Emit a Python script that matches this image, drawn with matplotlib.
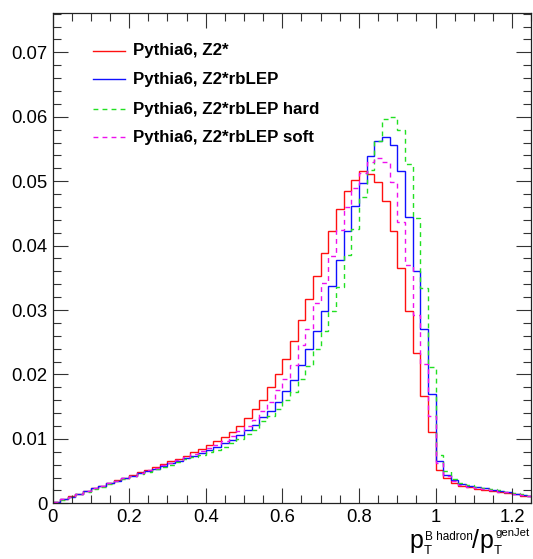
import numpy as np
import matplotlib
matplotlib.use("Agg")
import matplotlib.pyplot as plt
from matplotlib.ticker import MultipleLocator, FixedFormatter, FixedLocator

# Histogram binning: 63 bins of width 0.02 starting at 0
bin_width = 0.02
n_bins = 63

z2star = [0.0002, 0.0006, 0.0011, 0.0015, 0.0019, 0.0023, 0.0027, 0.0031, 0.0036, 0.0040,
          0.0044, 0.0048, 0.0052, 0.0056, 0.0061, 0.0065, 0.0069, 0.0074, 0.0079, 0.0085,
          0.0090, 0.0096, 0.0103, 0.0111, 0.0120, 0.0133, 0.0146, 0.0160, 0.0180, 0.0200,
          0.0224, 0.0252, 0.0284, 0.0317, 0.0353, 0.0388, 0.0423, 0.0457, 0.0485, 0.0502,
          0.0516, 0.0511, 0.0498, 0.0469, 0.0423, 0.0365, 0.0299, 0.0233, 0.0167, 0.0110,
          0.0052, 0.0039, 0.0032, 0.0027, 0.0025, 0.0022, 0.0021, 0.0019, 0.0017, 0.0016,
          0.0014, 0.0012, 0.0011]

z2star_rblep = [0.0002, 0.0006, 0.0010, 0.0015, 0.0019, 0.0023, 0.0027, 0.0031, 0.0035, 0.0039,
                0.0043, 0.0047, 0.0050, 0.0054, 0.0058, 0.0062, 0.0066, 0.0070, 0.0074, 0.0078,
                0.0082, 0.0088, 0.0093, 0.0099, 0.0106, 0.0114, 0.0122, 0.0134, 0.0143, 0.0158,
                0.0174, 0.0191, 0.0215, 0.0240, 0.0268, 0.0299, 0.0338, 0.0378, 0.0422, 0.0461,
                0.0497, 0.0539, 0.0562, 0.0569, 0.0556, 0.0515, 0.0444, 0.0361, 0.0270, 0.0169,
                0.0066, 0.0044, 0.0036, 0.0030, 0.0027, 0.0025, 0.0023, 0.0021, 0.0019, 0.0017,
                0.0015, 0.0013, 0.0012]

z2star_rblep_hard = [0.0002, 0.0005, 0.0010, 0.0014, 0.0018, 0.0022, 0.0026, 0.0030, 0.0034, 0.0038,
                     0.0042, 0.0045, 0.0049, 0.0053, 0.0057, 0.0060, 0.0064, 0.0068, 0.0072, 0.0075,
                     0.0079, 0.0083, 0.0088, 0.0093, 0.0100, 0.0107, 0.0113, 0.0127, 0.0135, 0.0146,
                     0.0160, 0.0173, 0.0193, 0.0213, 0.0240, 0.0268, 0.0299, 0.0335, 0.0386, 0.0425,
                     0.0476, 0.0518, 0.0562, 0.0596, 0.0600, 0.0579, 0.0526, 0.0443, 0.0334, 0.0211,
                     0.0075, 0.0050, 0.0038, 0.0031, 0.0028, 0.0026, 0.0024, 0.0022, 0.0020, 0.0018,
                     0.0016, 0.0014, 0.0012]

z2star_rblep_soft = [0.0002, 0.0006, 0.0010, 0.0015, 0.0019, 0.0023, 0.0027, 0.0031, 0.0035, 0.0039,
                     0.0043, 0.0047, 0.0051, 0.0055, 0.0059, 0.0063, 0.0067, 0.0072, 0.0077, 0.0081,
                     0.0086, 0.0091, 0.0097, 0.0104, 0.0112, 0.0120, 0.0130, 0.0144, 0.0158, 0.0176,
                     0.0193, 0.0214, 0.0245, 0.0271, 0.0311, 0.0342, 0.0384, 0.0424, 0.0460, 0.0490,
                     0.0512, 0.0530, 0.0536, 0.0530, 0.0498, 0.0437, 0.0370, 0.0292, 0.0216, 0.0136,
                     0.0062, 0.0043, 0.0034, 0.0029, 0.0026, 0.0024, 0.0022, 0.0020, 0.0018, 0.0017,
                     0.0015, 0.0013, 0.0012]

labels = ["Pythia6, Z2*", "Pythia6, Z2*rbLEP",
          "Pythia6, Z2*rbLEP hard", "Pythia6, Z2*rbLEP soft"]
colors = ["#ff1010", "#1010ff", "#22e022", "#ee10ee"]
styles = ["-", "-", (0, (3.5, 3.0)), (0, (3.5, 3.0))]
series = [z2star, z2star_rblep, z2star_rblep_hard, z2star_rblep_soft]

xtick_vals = [0, 0.2, 0.4, 0.6, 0.8, 1.0, 1.2]
xtick_text = ["0", "0.2", "0.4", "0.6", "0.8", "1", "1.2"]
ytick_vals = [0, 0.01, 0.02, 0.03, 0.04, 0.05, 0.06, 0.07]
ytick_text = ["0", "0.01", "0.02", "0.03", "0.04", "0.05", "0.06", "0.07"]

W, H = 533, 559
fig = plt.figure(figsize=(W / 100, H / 100), dpi=100)
plt.rcParams["font.family"] = ["Liberation Sans", "DejaVu Sans"]

ax_left, ax_right, ax_top, ax_bottom = 52.5, 531.25, 13.0, 503.3
ax = fig.add_axes([ax_left / W, 1 - ax_bottom / H,
                   (ax_right - ax_left) / W, (ax_bottom - ax_top) / H])

edges = np.arange(n_bins + 1) * bin_width
for vals, col, ls, lab in zip(series, colors, styles, labels):
    ax.stairs(np.asarray(vals), edges, color=col, linestyle=ls, linewidth=1.0,
              baseline=None, label=lab)

ax.set_xlim(0, 1.25)
ax.set_ylim(0, 0.0761)

ax.xaxis.set_major_locator(FixedLocator(xtick_vals))
ax.xaxis.set_major_formatter(FixedFormatter(xtick_text))
ax.xaxis.set_minor_locator(MultipleLocator(0.05))
ax.yaxis.set_major_locator(FixedLocator(ytick_vals))
ax.yaxis.set_major_formatter(FixedFormatter(ytick_text))
ax.yaxis.set_minor_locator(MultipleLocator(0.002))

ax.tick_params(which="both", direction="in", top=True, right=True,
               width=0.8, color="#333333", labelsize=13.3)
ax.tick_params(which="major", length=11)
ax.tick_params(which="minor", length=5.5)
ax.tick_params(axis="y", pad=3.5)
ax.tick_params(axis="x", pad=4)
for sp in ax.spines.values():
    sp.set_linewidth(0.9)
    sp.set_color("#222222")

# Legend drawn as lines and bold text, without a frame
leg_y = [50.7, 79.3, 109.3, 137.3]
for yy, col, ls, lab in zip(leg_y, colors, styles, labels):
    fy = 1 - yy / H
    fig.add_artist(plt.Line2D([93 / W, 125 / W], [fy, fy], transform=fig.transFigure,
                              color=col, linestyle=ls, linewidth=1.0))
    fig.text(133 / W, fy, lab, fontsize=12.2, fontweight="bold", va="center", ha="left")

# Axis title built from pieces: p_T^{B hadron} / p_T^{genJet}
def ftext(x, y, s, size):
    fig.text(x / W, 1 - y / H, s, fontsize=size, va="baseline", ha="left")

base = 548
x0 = 409
ftext(x0, base, "p", 18)
ftext(x0 + 16, base - 8, "B hadron", 8.5)
ftext(x0 + 15, base + 6, "T", 9.5)
ftext(x0 + 63, base, "/", 18)
ftext(x0 + 70, base, "p", 18)
ftext(x0 + 86, base - 12, "genJet", 8.2)
ftext(x0 + 85, base + 6, "T", 9.5)

fig.savefig("out.png", dpi=100)
